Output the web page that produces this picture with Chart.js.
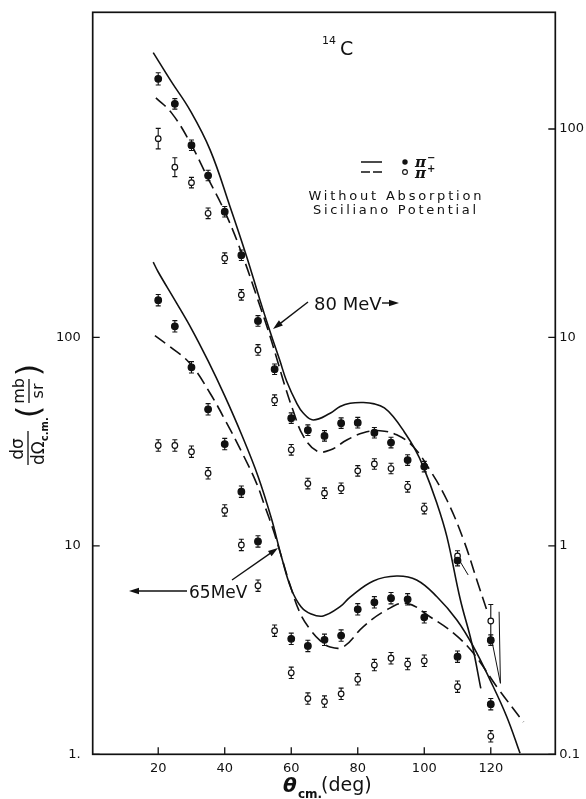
<!DOCTYPE html>
<html>
<head>
<meta charset="utf-8">
<script src="https://cdn.jsdelivr.net/npm/chart.js@4.4.1/dist/chart.umd.min.js"></script>
<style>
  html, body { margin: 0; padding: 0; background: #fff; }
  #wrap { width: 586px; height: 799px; }
</style>
</head>
<body>
<div id="wrap"><canvas id="chart" width="586" height="799"></canvas></div>
<script>
// scattering angle (deg, c.m.)
const angles = [20, 25, 30, 35, 40, 45, 50, 55, 60, 65, 70, 75, 80, 85, 90, 95, 100, 110, 120];
const angles65m = [20, 25, 30, 35, 40, 45, 50, 60, 65, 70, 75, 80, 85, 90, 95, 100, 110, 120];

// 80 MeV data, read on the right axis (mb/sr)
const piMinus80 = [174, 132, 83.6, 59.8, 40.1, 24.8, 12.0, 7.04, 4.10, 3.59, 3.37, 3.88, 3.90, 3.49, 3.13, 2.58, 2.40, 0.85, 0.353];
const piPlus80 = [89.9, 65.6, 55.3, 39.4, 24.0, 16.0, 8.71, 5.00, 2.89, 1.99, 1.79, 1.89, 2.29, 2.47, 2.35, 1.92, 1.51, 0.894, 0.436];
const piMinus80Err = [0.07, 0.06, 0.06, 0.06, 0.06, 0.06, 0.06, 0.06, 0.06, 0.06, 0.06, 0.06, 0.06, 0.06, 0.06, 0.06, 0.06, 0.06, 0.06];
const piPlus80Err = [0.12, 0.11, 0.06, 0.06, 0.06, 0.06, 0.06, 0.06, 0.06, 0.06, 0.06, 0.06, 0.06, 0.06, 0.06, 0.06, 0.06, 0.06, 0.2];

// 65 MeV data, read on the left axis (mb/sr)
const piMinus65 = [151, 113, 71.9, 45.2, 30.8, 18.2, 10.5, 3.58, 3.31, 3.54, 3.71, 4.96, 5.36, 5.61, 5.54, 4.54, 2.94, 1.74];
const piPlus65 = [30.3, 30.3, 28.3, 22.3, 14.8, 10.1, 6.44, 3.92, 2.46, 1.85, 1.79, 1.95, 2.29, 2.68, 2.89, 2.71, 2.81, 2.11, 1.22];
const errSmall = 0.065;

// the slanted bars drawn beside the 110 and 120 deg points (80 MeV)
const strayA = [[120.3, 0.353], [122.9, 0.219]];
const strayB = [[122.5, 0.483], [122.9, 0.219]];
const strayC = [[110.6, 0.85], [113.2, 0.725]];

// calculations (without absorption, Siciliano potential)
const solid80Theta = [18.5, 24.0, 29.5, 35.6, 41.6, 46.6, 50.6, 53.6, 56.6, 58.6, 61.6, 63.6, 66.6, 71.7, 74.7, 77.7, 81.7, 85, 88, 91, 94, 97, 99.7, 103.8, 106.8, 110.8, 114.3, 117.0];
const solid80 = [232.6, 168.3, 123.5, 79.4, 42.4, 24.4, 15.1, 10.7, 7.72, 6.18, 4.85, 4.34, 4.02, 4.33, 4.66, 4.83, 4.87, 4.80, 4.59, 4.11, 3.52, 2.95, 2.40, 1.60, 1.107, 0.556, 0.341, 0.207];
const dashed80Theta = [19.3, 24.0, 29.5, 34.6, 40.6, 45.6, 50.0, 53.0, 55.6, 58.0, 60.5, 63.6, 67.7, 71.7, 76.7, 81.7, 86.7, 91.7, 96.7, 101.7, 106.8, 111.8, 115.8, 118.8];
const dashed80 = [141, 119.5, 86.7, 59.6, 38.3, 24.1, 15.1, 10.9, 7.97, 5.92, 4.49, 3.37, 2.85, 2.88, 3.22, 3.49, 3.57, 3.41, 2.99, 2.31, 1.66, 1.07, 0.686, 0.492];
const solid65Theta = [18.5, 20, 25, 30, 35, 40, 45, 50, 54, 57, 60, 63, 66, 69.6, 74.7, 77.7, 84.7, 91.7, 97.7, 103.8, 109.8, 114.8, 119.8, 124.8, 128.8];
const solid65 = [230, 206, 151, 110, 77.1, 52.4, 34.4, 21.6, 13.6, 8.94, 6.21, 5.09, 4.71, 4.61, 5.11, 5.68, 6.79, 7.17, 6.86, 5.70, 4.41, 3.28, 2.27, 1.515, 1.011];
const dashed65Theta = [19.0, 23.5, 29.5, 35.6, 40.6, 45.6, 49.6, 52.0, 54.6, 57.0, 59.6, 62.6, 65.6, 68.7, 71.7, 75.7, 81.7, 88.7, 94.7, 101.7, 108.8, 114.8, 121.8, 129.8];
const dashed65 = [102, 90.3, 75.2, 54.0, 38.8, 27.2, 19.9, 15.6, 11.9, 8.93, 6.52, 4.78, 3.99, 3.51, 3.27, 3.28, 4.10, 4.93, 5.30, 4.57, 3.81, 3.05, 2.11, 1.43];

// axes
const xTicks = [20, 40, 60, 80, 100, 120];
const leftTicks = [1, 10, 100];
const leftTickLabels = ['1.', '10', '100'];
const rightTicks = [0.1, 1, 10, 100];
const rightTickLabels = ['0.1', '1', '10', '100'];

const ink = '#111';
const pts = (xs, ys) => xs.map((x, i) => ({ x: x, y: ys[i] }));
const pairs = (list) => list.map(p => ({ x: p[0], y: p[1] }));
const fillErr = (n) => Array(n).fill(errSmall);

function curve(data, axis, dashed) {
    return {
        data: data,
        yAxisID: axis,
        showLine: true,
        pointRadius: 0,
        borderColor: ink,
        borderWidth: 1.6,
        borderDash: dashed ? [13, 6] : [],
        tension: 0.4
    };
}

function thin(data) {
    return {
        data: data,
        yAxisID: 'y2',
        showLine: true,
        pointRadius: 0,
        borderColor: ink,
        borderWidth: 1
    };
}

function marks(data, axis, filled, errs) {
    return {
        data: data,
        yAxisID: axis,
        showLine: false,
        pointRadius: filled ? 3.3 : 2.8,
        pointBorderWidth: 1.2,
        pointBorderColor: ink,
        pointBackgroundColor: filled ? ink : '#fff',
        errs: errs
    };
}

function arrow(ctx, x1, y1, x2, y2) {
    const ang = Math.atan2(y2 - y1, x2 - x1);
    ctx.beginPath();
    ctx.moveTo(x1, y1);
    ctx.lineTo(x2 - 6 * Math.cos(ang), y2 - 6 * Math.sin(ang));
    ctx.stroke();
    ctx.save();
    ctx.translate(x2, y2);
    ctx.rotate(ang);
    ctx.beginPath();
    ctx.moveTo(0, 0);
    ctx.lineTo(-10, -3.2);
    ctx.lineTo(-10, 3.2);
    ctx.closePath();
    ctx.fill();
    ctx.restore();
}

function spacedText(ctx, text, cx, y, width) {
    ctx.letterSpacing = '0px';
    const w0 = ctx.measureText(text).width;
    const ls = (width - w0) / (text.length - 1);
    ctx.letterSpacing = ls + 'px';
    ctx.textAlign = 'left';
    ctx.fillText(text, cx - width / 2, y);
    ctx.letterSpacing = '0px';
}

function noPad(s) {
    s.paddingTop = 0;
    s.paddingBottom = 0;
    s.paddingLeft = 0;
    s.paddingRight = 0;
}

const decor = {
    id: 'decor',
    beforeDatasetsDraw(chart) {
        // error bars
        const ctx = chart.ctx;
        ctx.save();
        ctx.strokeStyle = ink;
        ctx.lineWidth = 1.1;
        chart.data.datasets.forEach(ds => {
            if (!ds.errs) return;
            const ys = chart.scales[ds.yAxisID];
            const xs = chart.scales.x;
            ds.data.forEach((p, i) => {
                const e = ds.errs[i];
                const px = xs.getPixelForValue(p.x);
                const top = ys.getPixelForValue(p.y * (1 + e));
                const bot = ys.getPixelForValue(p.y / (1 + e));
                ctx.beginPath();
                ctx.moveTo(px, top); ctx.lineTo(px, bot);
                ctx.moveTo(px - 2.5, top); ctx.lineTo(px + 2.5, top);
                ctx.moveTo(px - 2.5, bot); ctx.lineTo(px + 2.5, bot);
                ctx.stroke();
            });
        });
        ctx.restore();
    },
    afterDraw(chart) {
        const ctx = chart.ctx;
        const a = chart.chartArea;
        ctx.save();
        ctx.strokeStyle = ink;
        ctx.fillStyle = ink;

        // frame
        ctx.lineWidth = 1.7;
        ctx.strokeRect(a.left, a.top, a.right - a.left, a.bottom - a.top);

        // inward tick marks
        ctx.lineWidth = 1.3;
        ctx.beginPath();
        chart.scales.x.ticks.forEach(t => {
            const px = chart.scales.x.getPixelForValue(t.value);
            ctx.moveTo(px, a.bottom); ctx.lineTo(px, a.bottom - 7);
        });
        chart.scales.y.ticks.forEach(t => {
            const py = chart.scales.y.getPixelForValue(t.value);
            ctx.moveTo(a.left, py); ctx.lineTo(a.left + 7, py);
        });
        chart.scales.y2.ticks.forEach(t => {
            const py = chart.scales.y2.getPixelForValue(t.value);
            ctx.moveTo(a.right, py); ctx.lineTo(a.right - 7, py);
        });
        ctx.stroke();

        // x title
        ctx.textBaseline = 'alphabetic';
        ctx.textAlign = 'left';
        ctx.font = 'italic bold 20px "DejaVu Sans"';
        ctx.fillText('θ', 283, 792);
        ctx.font = 'bold 12px "DejaVu Sans"';
        ctx.fillText('cm.', 298, 798);
        ctx.font = '19px "DejaVu Sans"';
        ctx.fillText('(deg)', 321, 791);

        // y title (rotated fraction)
        ctx.save();
        ctx.translate(28, 440);
        ctx.rotate(-Math.PI / 2);
        ctx.font = '17px "DejaVu Sans"';
        ctx.textAlign = 'center';
        ctx.fillText('dσ', -9, -5);
        ctx.lineWidth = 1.3;
        ctx.beginPath();
        ctx.moveTo(-25, 0); ctx.lineTo(9, 0);
        ctx.stroke();
        ctx.textAlign = 'left';
        ctx.fillText('dΩ', -25, 16);
        const wd = ctx.measureText('dΩ').width;
        ctx.font = 'bold 10px "DejaVu Sans"';
        ctx.fillText('c.m.', -25 + wd, 20);
        ctx.font = '32px "DejaVu Sans"';
        ctx.textAlign = 'center';
        ctx.fillText('(', 28, 11);
        ctx.fillText(')', 70, 11);
        ctx.font = '16px "DejaVu Sans"';
        ctx.fillText('mb', 49, -4);
        ctx.fillText('sr', 49, 15);
        ctx.beginPath();
        ctx.moveTo(37, 1); ctx.lineTo(61, 1);
        ctx.stroke();
        ctx.restore();

        // target label
        ctx.textAlign = 'left';
        ctx.font = '11px "DejaVu Sans"';
        ctx.fillText('14', 322, 44);
        ctx.font = '19px "DejaVu Sans"';
        ctx.fillText('C', 340, 55);

        // legend
        ctx.lineWidth = 1.6;
        ctx.beginPath();
        ctx.moveTo(361, 162); ctx.lineTo(382, 162);
        ctx.moveTo(361, 172); ctx.lineTo(370, 172);
        ctx.moveTo(373, 172); ctx.lineTo(382, 172);
        ctx.stroke();
        ctx.beginPath();
        ctx.arc(405, 162, 2.7, 0, Math.PI * 2);
        ctx.fill();
        ctx.lineWidth = 1.1;
        ctx.beginPath();
        ctx.arc(405, 172, 2.4, 0, Math.PI * 2);
        ctx.stroke();
        ctx.font = 'italic bold 15px "DejaVu Serif"';
        ctx.fillText('π', 415, 167);
        ctx.fillText('π', 415, 178);
        ctx.font = 'bold 10px "DejaVu Sans"';
        ctx.fillText('−', 427, 161);
        ctx.fillText('+', 427, 172);

        ctx.font = '13px "DejaVu Sans"';
        spacedText(ctx, 'Without Absorption', 395, 200, 173);
        spacedText(ctx, 'Siciliano Potential', 394.5, 214, 163);

        // energy labels and arrows
        ctx.font = '18px "DejaVu Sans"';
        ctx.textAlign = 'left';
        ctx.fillText('80 MeV', 314, 310);
        ctx.font = '17px "DejaVu Sans"';
        ctx.fillText('65MeV', 189, 598);
        ctx.lineWidth = 1.4;
        arrow(ctx, 308, 302, 273, 329);
        arrow(ctx, 382, 303, 399, 303);
        arrow(ctx, 187, 591, 129, 591);
        arrow(ctx, 232, 580, 278, 548);

        ctx.restore();
    }
};

const tickFont = { family: 'DejaVu Sans', size: 13 };

new Chart(document.getElementById('chart'), {
    type: 'scatter',
    data: {
        datasets: [
            marks(pts(angles, piMinus80), 'y2', true, piMinus80Err),
            marks(pts(angles, piPlus80), 'y2', false, piPlus80Err),
            marks(pts(angles65m, piMinus65), 'y', true, fillErr(angles65m.length)),
            marks(pts(angles, piPlus65), 'y', false, fillErr(angles.length)),
            curve(pts(solid80Theta, solid80), 'y2', false),
            curve(pts(dashed80Theta, dashed80), 'y2', true),
            curve(pts(solid65Theta, solid65), 'y', false),
            curve(pts(dashed65Theta, dashed65), 'y', true),
            thin(pairs(strayA)),
            thin(pairs(strayB)),
            thin(pairs(strayC))
        ]
    },
    options: {
        responsive: false,
        animation: false,
        devicePixelRatio: 1,
        layout: { padding: { left: 0, right: 0, top: 12.3, bottom: 0 } },
        plugins: {
            legend: { display: false },
            tooltip: { enabled: false }
        },
        scales: {
            x: {
                type: 'linear',
                min: 0.3,
                max: 139.4,
                afterBuildTicks: s => { s.ticks = xTicks.map(v => ({ value: v })); },
                afterFit: s => { s.height = 44.7; noPad(s); },
                grid: { display: false, drawTicks: false },
                border: { display: false },
                ticks: { color: ink, font: tickFont, padding: 7, maxRotation: 0, autoSkip: false }
            },
            y: {
                type: 'logarithmic',
                position: 'left',
                min: 1,
                max: 3630,
                afterBuildTicks: s => { s.ticks = leftTicks.map(v => ({ value: v })); },
                afterFit: s => { s.width = 92.7; noPad(s); },
                grid: { display: false, drawTicks: false },
                border: { display: false },
                ticks: { color: ink, font: tickFont, padding: 12, callback: (v, i) => leftTickLabels[i] }
            },
            y2: {
                type: 'logarithmic',
                position: 'right',
                min: 0.1,
                max: 363,
                afterBuildTicks: s => { s.ticks = rightTicks.map(v => ({ value: v })); },
                afterFit: s => { s.width = 30.7; noPad(s); },
                grid: { display: false, drawTicks: false },
                border: { display: false },
                ticks: { color: ink, font: tickFont, padding: 4, callback: (v, i) => rightTickLabels[i] }
            }
        }
    },
    plugins: [decor]
});
</script>
</body>
</html>
